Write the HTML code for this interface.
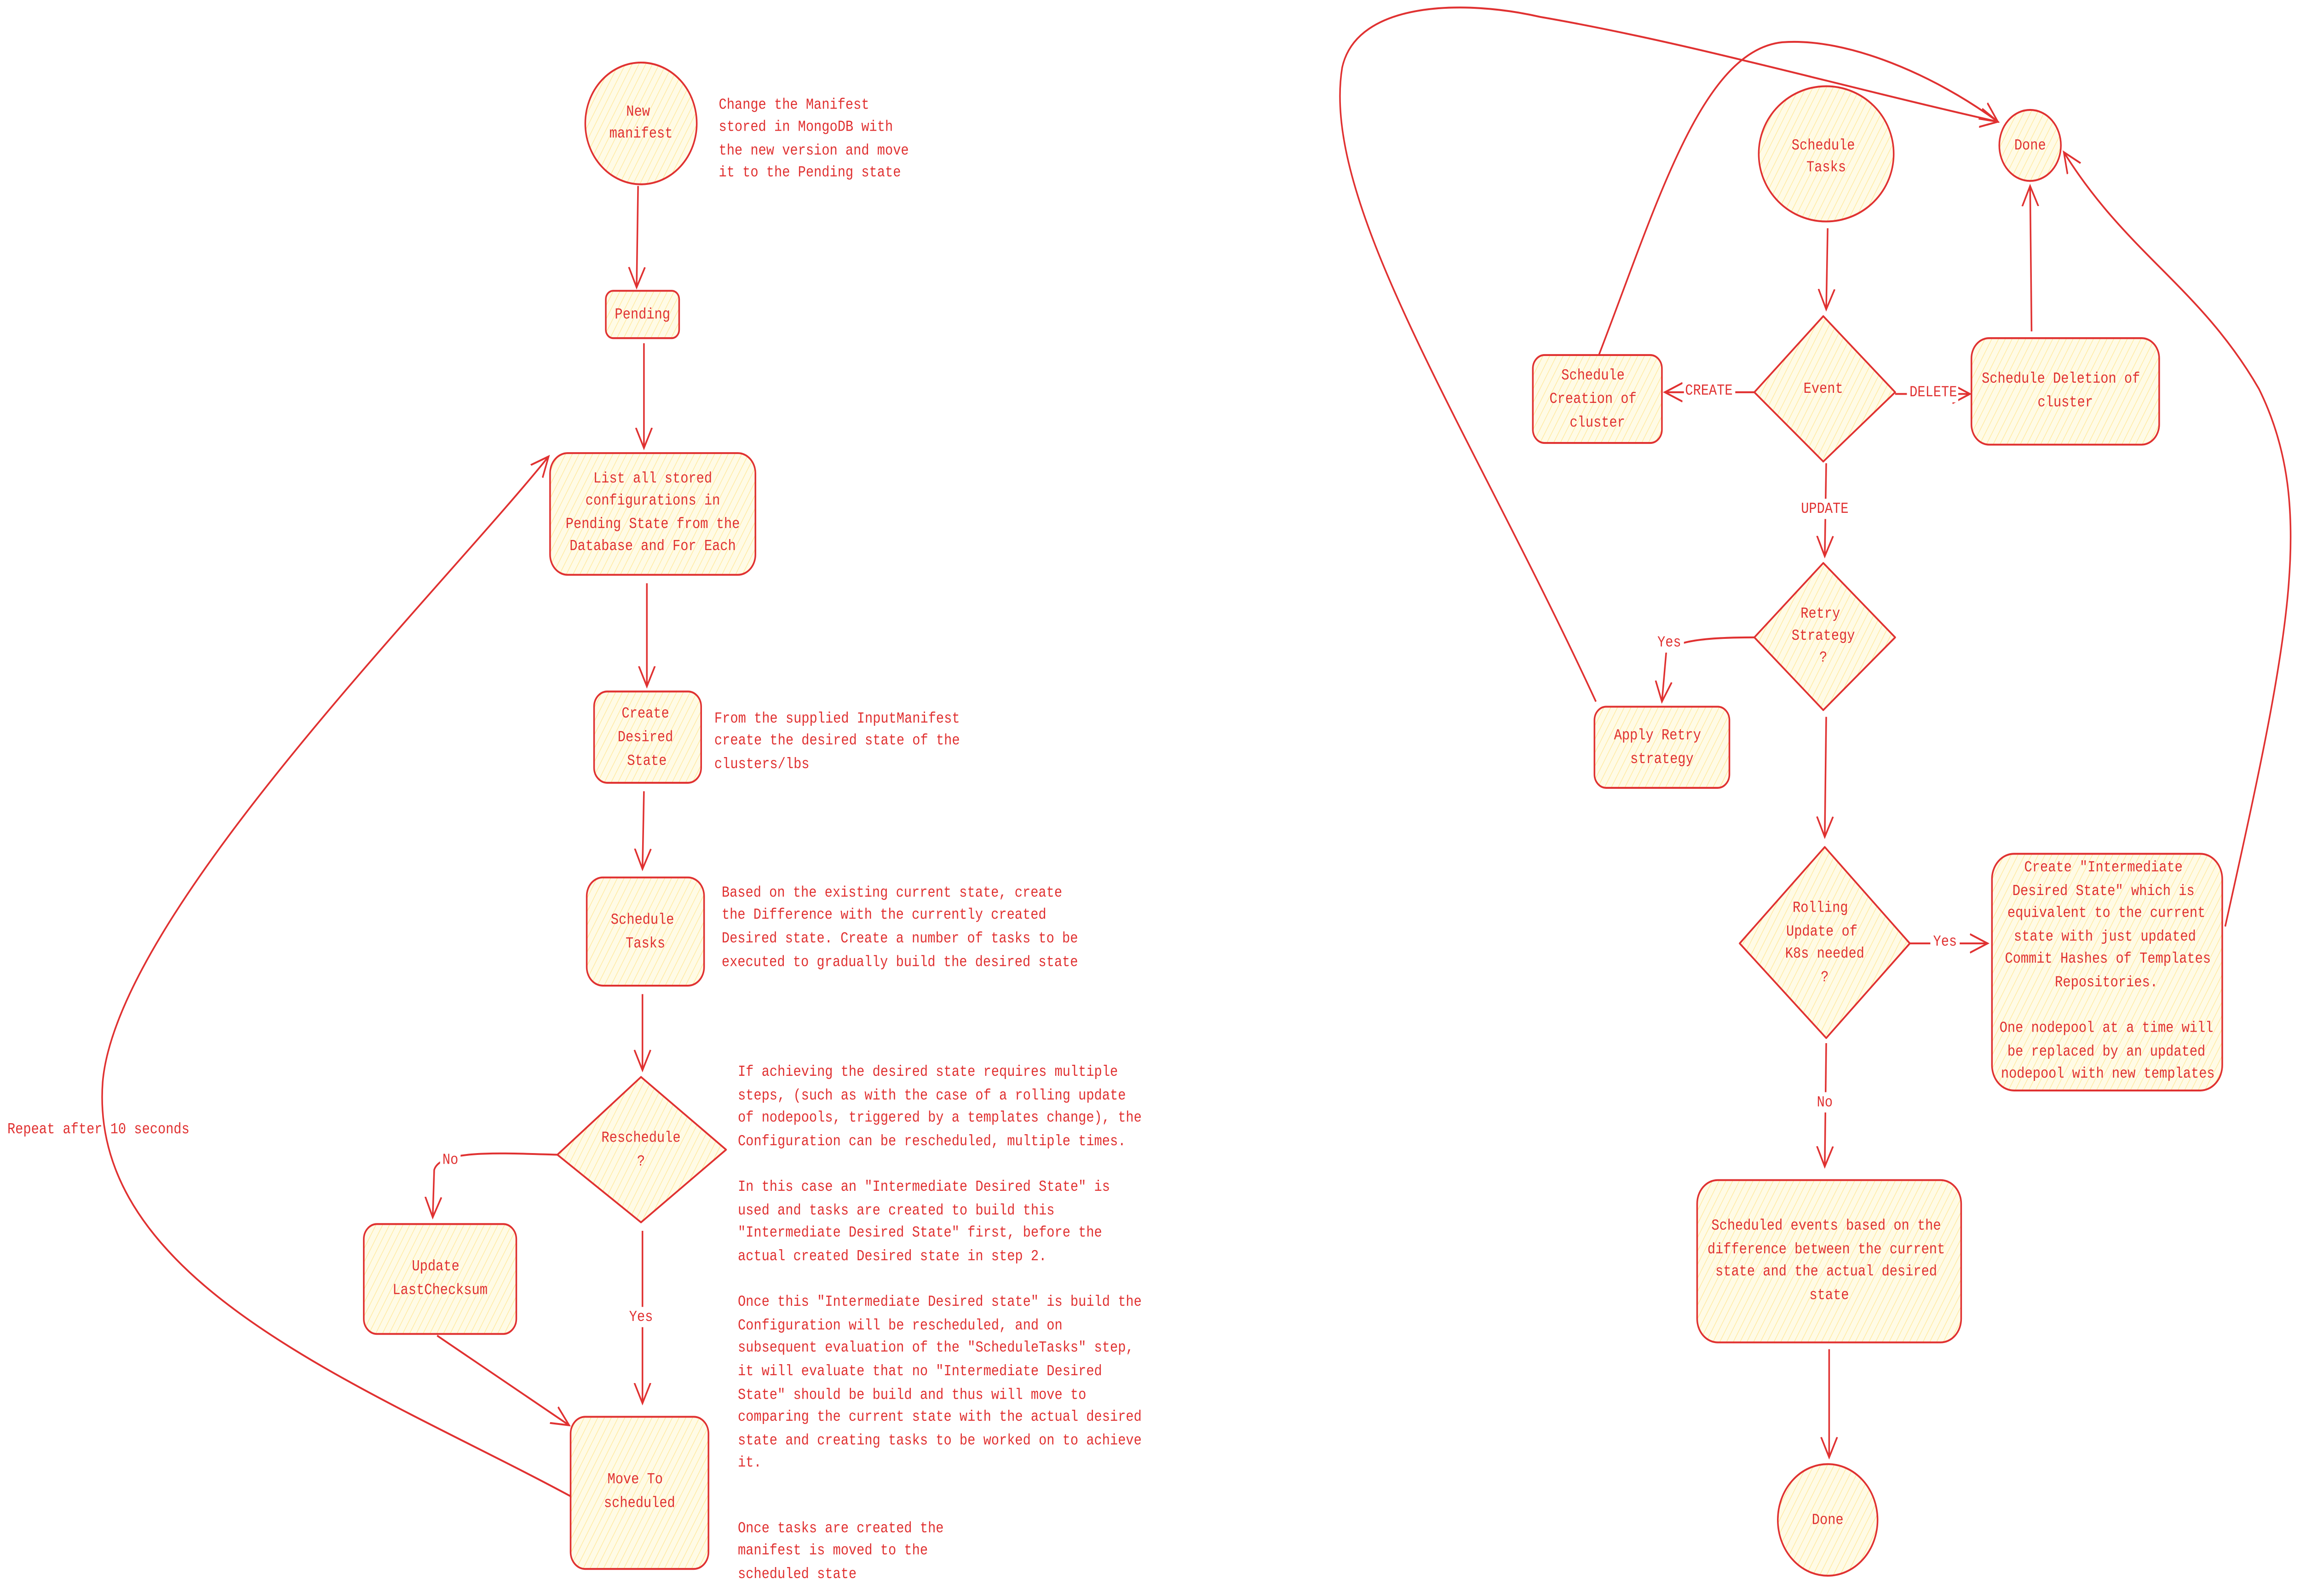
<!DOCTYPE html>
<html><head><meta charset="utf-8"><style>
html,body{margin:0;padding:0;background:#fff;width:100%;height:100%;overflow:hidden;}
svg{display:block;position:absolute;left:0;top:0;width:100vw;height:100vh;}
text{font-family:"Liberation Mono",monospace;font-size:9px;fill:#e03131;}
.c{text-anchor:middle;}
.s{stroke:#e03131;stroke-width:1.1;}
.l{fill:none;stroke:#e03131;stroke-width:1.1;}
</style></head><body>
<svg viewBox="0 0 1568 944" preserveAspectRatio="none" xmlns="http://www.w3.org/2000/svg">
<defs>
<marker id="a" markerUnits="userSpaceOnUse" markerWidth="14" markerHeight="14" refX="12" refY="6" orient="auto">
<path d="M0,0.5 L12,6 L0,11.5" fill="none" stroke="#e03131" stroke-width="1.1"/>
</marker>
<pattern id="h" width="4" height="4" patternUnits="userSpaceOnUse" patternTransform="rotate(30)">
<rect width="4" height="4" fill="#fffbe6"/><line x1="0" y1="0" x2="0" y2="4" stroke="#ffe89a" stroke-width="0.8"/>
</pattern>
</defs>
<style>.s{fill:url(#h);}</style>
<g dominant-baseline="middle">
<!-- LEFT -->
<ellipse class="s" cx="437" cy="73" rx="38" ry="36"/>
<text class="c" x="435" y="66">New</text><text class="c" x="437" y="79">manifest</text>
<text x="490" y="62">Change the Manifest</text>
<text x="490" y="75">stored in MongoDB with</text>
<text x="490" y="89">the new version and move</text>
<text x="490" y="102">it to the Pending state</text>
<path class="l" d="M435,110 L434,170" marker-end="url(#a)"/>
<rect class="s" x="413" y="172" width="50" height="28" rx="5"/>
<text class="c" x="438" y="186">Pending</text>
<path class="l" d="M439,203 L439,265" marker-end="url(#a)"/>
<rect class="s" x="375" y="268" width="140" height="72" rx="12"/>
<text class="c" x="445" y="283">List all stored</text>
<text class="c" x="445" y="296">configurations in</text>
<text class="c" x="445" y="310">Pending State from the</text>
<text class="c" x="445" y="323">Database and For Each</text>
<path class="l" d="M441,345 L441,406" marker-end="url(#a)"/>
<rect class="s" x="405" y="409" width="73" height="54" rx="9"/>
<text class="c" x="440" y="422">Create</text><text class="c" x="440" y="436">Desired</text><text class="c" x="441" y="450">State</text>
<text x="487" y="425">From the supplied InputManifest</text>
<text x="487" y="438">create the desired state of the</text>
<text x="487" y="452">clusters/lbs</text>
<path class="l" d="M439,468 L438,514" marker-end="url(#a)"/>
<rect class="s" x="400" y="519" width="80" height="64" rx="11"/>
<text class="c" x="438" y="544">Schedule</text><text class="c" x="440" y="558">Tasks</text>
<text x="492" y="528">Based on the existing current state, create</text>
<text x="492" y="541">the Difference with the currently created</text>
<text x="492" y="555">Desired state. Create a number of tasks to be</text>
<text x="492" y="569">executed to gradually build the desired state</text>
<path class="l" d="M438,588 L438,633" marker-end="url(#a)"/>
<path class="s" d="M437,637 L495,680 L437,723 L380,683 Z" stroke-linejoin="round"/>
<text class="c" x="437" y="673">Reschedule</text><text class="c" x="437" y="687">?</text>
<path class="l" d="M380,683 C340,682 300,680 296,692 L295,720" marker-end="url(#a)"/>
<rect x="300" y="680" width="14" height="12" fill="#fff"/>
<text class="c" x="307" y="686">No</text>
<rect class="s" x="248" y="724" width="104" height="65" rx="9"/>
<text class="c" x="297" y="749">Update</text><text class="c" x="300" y="763">LastChecksum</text>
<path class="l" d="M438,728 L438,830" marker-end="url(#a)"/>
<rect x="427" y="773" width="20" height="12" fill="#fff"/>
<text class="c" x="437" y="779">Yes</text>
<path class="l" d="M298,790 L388,843" marker-end="url(#a)"/>
<rect class="s" x="389" y="838" width="94" height="90" rx="10"/>
<text class="c" x="433" y="875">Move To</text><text class="c" x="436" y="889">scheduled</text>
<path class="l" d="M389,885 C250,820 60,760 70,640 C80,540 300,350 374,270" marker-end="url(#a)"/>
<text x="5" y="668">Repeat after 10 seconds</text>
<text x="503" y="634">If achieving the desired state requires multiple</text>
<text x="503" y="648">steps, (such as with the case of a rolling update</text>
<text x="503" y="661">of nodepools, triggered by a templates change), the</text>
<text x="503" y="675">Configuration can be rescheduled, multiple times.</text>
<text x="503" y="702">In this case an "Intermediate Desired State" is</text>
<text x="503" y="716">used and tasks are created to build this</text>
<text x="503" y="729">"Intermediate Desired State" first, before the</text>
<text x="503" y="743">actual created Desired state in step 2.</text>
<text x="503" y="770">Once this "Intermediate Desired state" is build the</text>
<text x="503" y="784">Configuration will be rescheduled, and on</text>
<text x="503" y="797">subsequent evaluation of the "ScheduleTasks" step,</text>
<text x="503" y="811">it will evaluate that no "Intermediate Desired</text>
<text x="503" y="825">State" should be build and thus will move to</text>
<text x="503" y="838">comparing the current state with the actual desired</text>
<text x="503" y="852">state and creating tasks to be worked on to achieve</text>
<text x="503" y="865">it.</text>
<text x="503" y="904">Once tasks are created the</text>
<text x="503" y="917">manifest is moved to the</text>
<text x="503" y="931">scheduled state</text>

<!-- RIGHT -->
<path class="l" d="M1088,415 C1000,250 900,120 915,40 C925,0 1000,0 1050,10 C1150,25 1250,50 1362,72" marker-end="url(#a)"/>
<path class="l" d="M1090,210 C1130,120 1160,30 1215,25 C1260,22 1320,45 1362,72" marker-end="url(#a)"/>
<path class="l" d="M1517,548 C1560,380 1580,300 1540,230 C1500,170 1450,150 1407,90" marker-end="url(#a)"/>
<ellipse class="s" cx="1245" cy="91" rx="46" ry="40"/>
<text class="c" x="1243" y="86">Schedule</text><text class="c" x="1245" y="99">Tasks</text>
<ellipse class="s" cx="1384" cy="86" rx="21" ry="21"/>
<text class="c" x="1384" y="86">Done</text>
<path class="l" d="M1246,135 L1245,183" marker-end="url(#a)"/>
<path class="s" d="M1243,187 L1292,232 L1243,273 L1196,232 Z" stroke-linejoin="round"/>
<text class="c" x="1243" y="230">Event</text>
<path class="l" d="M1196,232 L1135,232" marker-end="url(#a)"/>
<rect x="1148" y="225" width="35" height="12" fill="#fff"/>
<text class="c" x="1165" y="231">CREATE</text>
<rect class="s" x="1045" y="210" width="88" height="52" rx="8"/>
<text class="c" x="1086" y="222">Schedule</text><text class="c" x="1086" y="236">Creation of</text><text class="c" x="1089" y="250">cluster</text>
<path class="l" d="M1292,233 L1343,233" marker-end="url(#a)"/>
<rect x="1300" y="226" width="35" height="12" fill="#fff"/>
<text class="c" x="1318" y="232">DELETE</text>
<rect class="s" x="1344" y="200" width="128" height="63" rx="12"/>
<text class="c" x="1405" y="224">Schedule Deletion of</text><text class="c" x="1408" y="238">cluster</text>
<path class="l" d="M1385,196 L1384,110" marker-end="url(#a)"/>
<path class="l" d="M1245,274 L1244,329" marker-end="url(#a)"/>
<rect x="1226" y="295" width="36" height="12" fill="#fff"/>
<text class="c" x="1244" y="301">UPDATE</text>
<path class="s" d="M1243,333 L1292,377 L1243,420 L1196,377 Z" stroke-linejoin="round"/>
<text class="c" x="1241" y="363">Retry</text><text class="c" x="1243" y="376">Strategy</text><text class="c" x="1243" y="389">?</text>
<path class="l" d="M1196,377 C1170,377 1145,378 1136,385 L1133,415" marker-end="url(#a)"/>
<rect x="1128" y="374" width="20" height="12" fill="#fff"/>
<text class="c" x="1138" y="380">Yes</text>
<rect class="s" x="1087" y="418" width="92" height="48" rx="8"/>
<text class="c" x="1130" y="435">Apply Retry</text><text class="c" x="1133" y="449">strategy</text>
<path class="l" d="M1245,424 L1244,495" marker-end="url(#a)"/>
<path class="s" d="M1244,501 L1302,558 L1245,614 L1186,558 Z" stroke-linejoin="round"/>
<text class="c" x="1241" y="537">Rolling</text><text class="c" x="1242" y="551">Update of</text><text class="c" x="1244" y="564">K8s needed</text><text class="c" x="1244" y="578">?</text>
<path class="l" d="M1302,558 L1355,558" marker-end="url(#a)"/>
<rect x="1316" y="551" width="20" height="12" fill="#fff"/>
<text class="c" x="1326" y="557">Yes</text>
<rect class="s" x="1358" y="505" width="157" height="140" rx="15"/>
<text class="c" x="1434" y="513">Create "Intermediate</text>
<text class="c" x="1434" y="527">Desired State" which is</text>
<text class="c" x="1436" y="540">equivalent to the current</text>
<text class="c" x="1435" y="554">state with just updated</text>
<text class="c" x="1437" y="567">Commit Hashes of Templates</text>
<text class="c" x="1436" y="581">Repositories.</text>
<text class="c" x="1436" y="608">One nodepool at a time will</text>
<text class="c" x="1436" y="622">be replaced by an updated</text>
<text class="c" x="1437" y="635">nodepool with new templates</text>
<path class="l" d="M1245,617 L1244,690" marker-end="url(#a)"/>
<rect x="1236" y="646" width="16" height="12" fill="#fff"/>
<text class="c" x="1244" y="652">No</text>
<rect class="s" x="1157" y="698" width="180" height="96" rx="14"/>
<text class="c" x="1245" y="725">Scheduled events based on the</text>
<text class="c" x="1245" y="739">difference between the current</text>
<text class="c" x="1245" y="752">state and the actual desired</text>
<text class="c" x="1247" y="766">state</text>
<path class="l" d="M1247,798 L1247,862" marker-end="url(#a)"/>
<ellipse class="s" cx="1246" cy="899" rx="34" ry="33"/>
<text class="c" x="1246" y="899">Done</text>
</g>
</svg>
</body></html>
